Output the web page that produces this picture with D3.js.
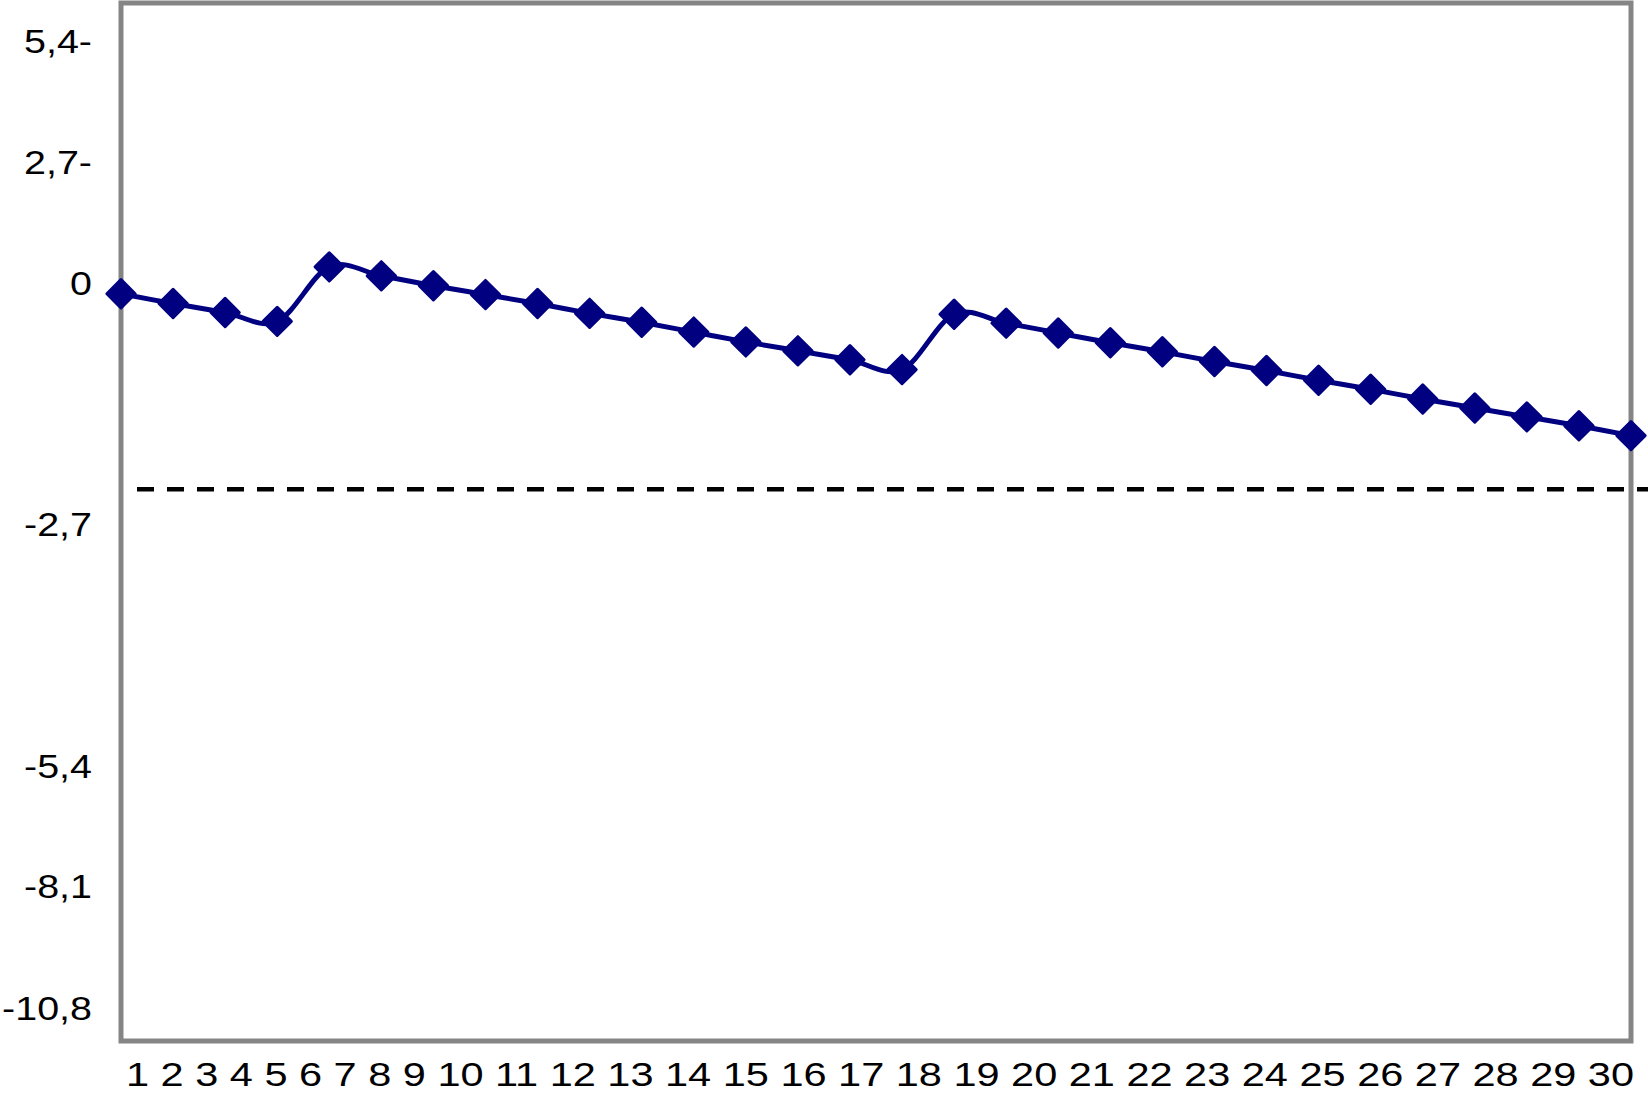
<!DOCTYPE html>
<html>
<head>
<meta charset="utf-8">
<script src="https://cdn.jsdelivr.net/npm/d3@7"></script>
<style>
  html, body { margin: 0; padding: 0; background: #fff; }
  text { font-family: "Liberation Sans", Arial, Helvetica, sans-serif; fill: #000; }
</style>
</head>
<body>
<div id="chart"></div>
<script>
var width = 1648;
var height = 1096;

// days along the x axis
var days = d3.range(1, 31);

// series values, one per day
var values = [-0.12, -0.23, -0.33, -0.43, 0.36, 0.16, -0.03, -0.13, -0.23, -0.34,
              -0.44, -0.55, -0.66, -0.76, -0.86, -0.97, -0.35, -0.45, -0.56, -0.67,
              -0.77, -0.88, -0.98, -1.09, -1.19, -1.30, -1.40, -1.50, -1.60, -1.71];

// dashed reference level
var limit = -2.31;

// y tick values and their labels as printed
var yTicks = [5.4, 2.7, 0, -2.7, -5.4, -8.1, -10.8];
var yTickLabels = ["5,4-", "2,7-", "0", "-2,7", "-5,4", "-8,1", "-10,8"];

var plot = { left: 121, right: 1631, top: 3, bottom: 1041 };

var svg = d3.select("#chart").append("svg")
    .attr("width", width)
    .attr("height", height);

var x = d3.scalePoint()
    .domain(days)
    .range([plot.left, plot.right]);

// the printed axis is not evenly spaced, so map each tick to its own spot
var y = d3.scaleLinear()
    .domain(yTicks)
    .range([41, 162, 283, 524, 766, 886, 1008]);

// plot frame
svg.append("rect")
    .attr("x", plot.left)
    .attr("y", plot.top)
    .attr("width", plot.right - plot.left)
    .attr("height", plot.bottom - plot.top)
    .attr("fill", "none")
    .attr("stroke", "#858585")
    .attr("stroke-width", 5);

// y labels
svg.append("g")
    .selectAll("text")
    .data(yTicks)
    .enter().append("text")
    .attr("transform", function (d) { return "translate(92," + y(d) + ") scale(1.16,1)"; })
    .attr("dy", "0.35em")
    .attr("text-anchor", "end")
    .attr("font-size", 34)
    .text(function (d, i) { return yTickLabels[i]; });

// x labels, printed as one run of text
svg.append("text")
    .attr("x", 126)
    .attr("y", 1086)
    .attr("font-size", 34)
    .attr("textLength", 1508)
    .attr("lengthAdjust", "spacingAndGlyphs")
    .text(days.join(" "));

// dashed level
svg.append("line")
    .attr("x1", 137)
    .attr("x2", width)
    .attr("y1", y(limit))
    .attr("y2", y(limit))
    .attr("stroke", "#000")
    .attr("stroke-width", 4.5)
    .attr("stroke-dasharray", "17,13");

var line = d3.line()
    .x(function (d, i) { return x(days[i]); })
    .y(function (d) { return y(d); })
    .curve(d3.curveCatmullRom.alpha(0));

svg.append("path")
    .datum(values)
    .attr("d", line)
    .attr("fill", "none")
    .attr("stroke", "#000080")
    .attr("stroke-width", 5);

var diamond = d3.symbol().type(d3.symbolSquare).size(400);

svg.append("g")
    .selectAll("path")
    .data(values)
    .enter().append("path")
    .attr("d", diamond)
    .attr("transform", function (d, i) { return "translate(" + x(days[i]) + "," + y(d) + ") rotate(45)"; })
    .attr("fill", "#000080")
    .attr("stroke", "#000080")
    .attr("stroke-width", 3)
    .attr("stroke-linejoin", "round");
</script>
</body>
</html>
